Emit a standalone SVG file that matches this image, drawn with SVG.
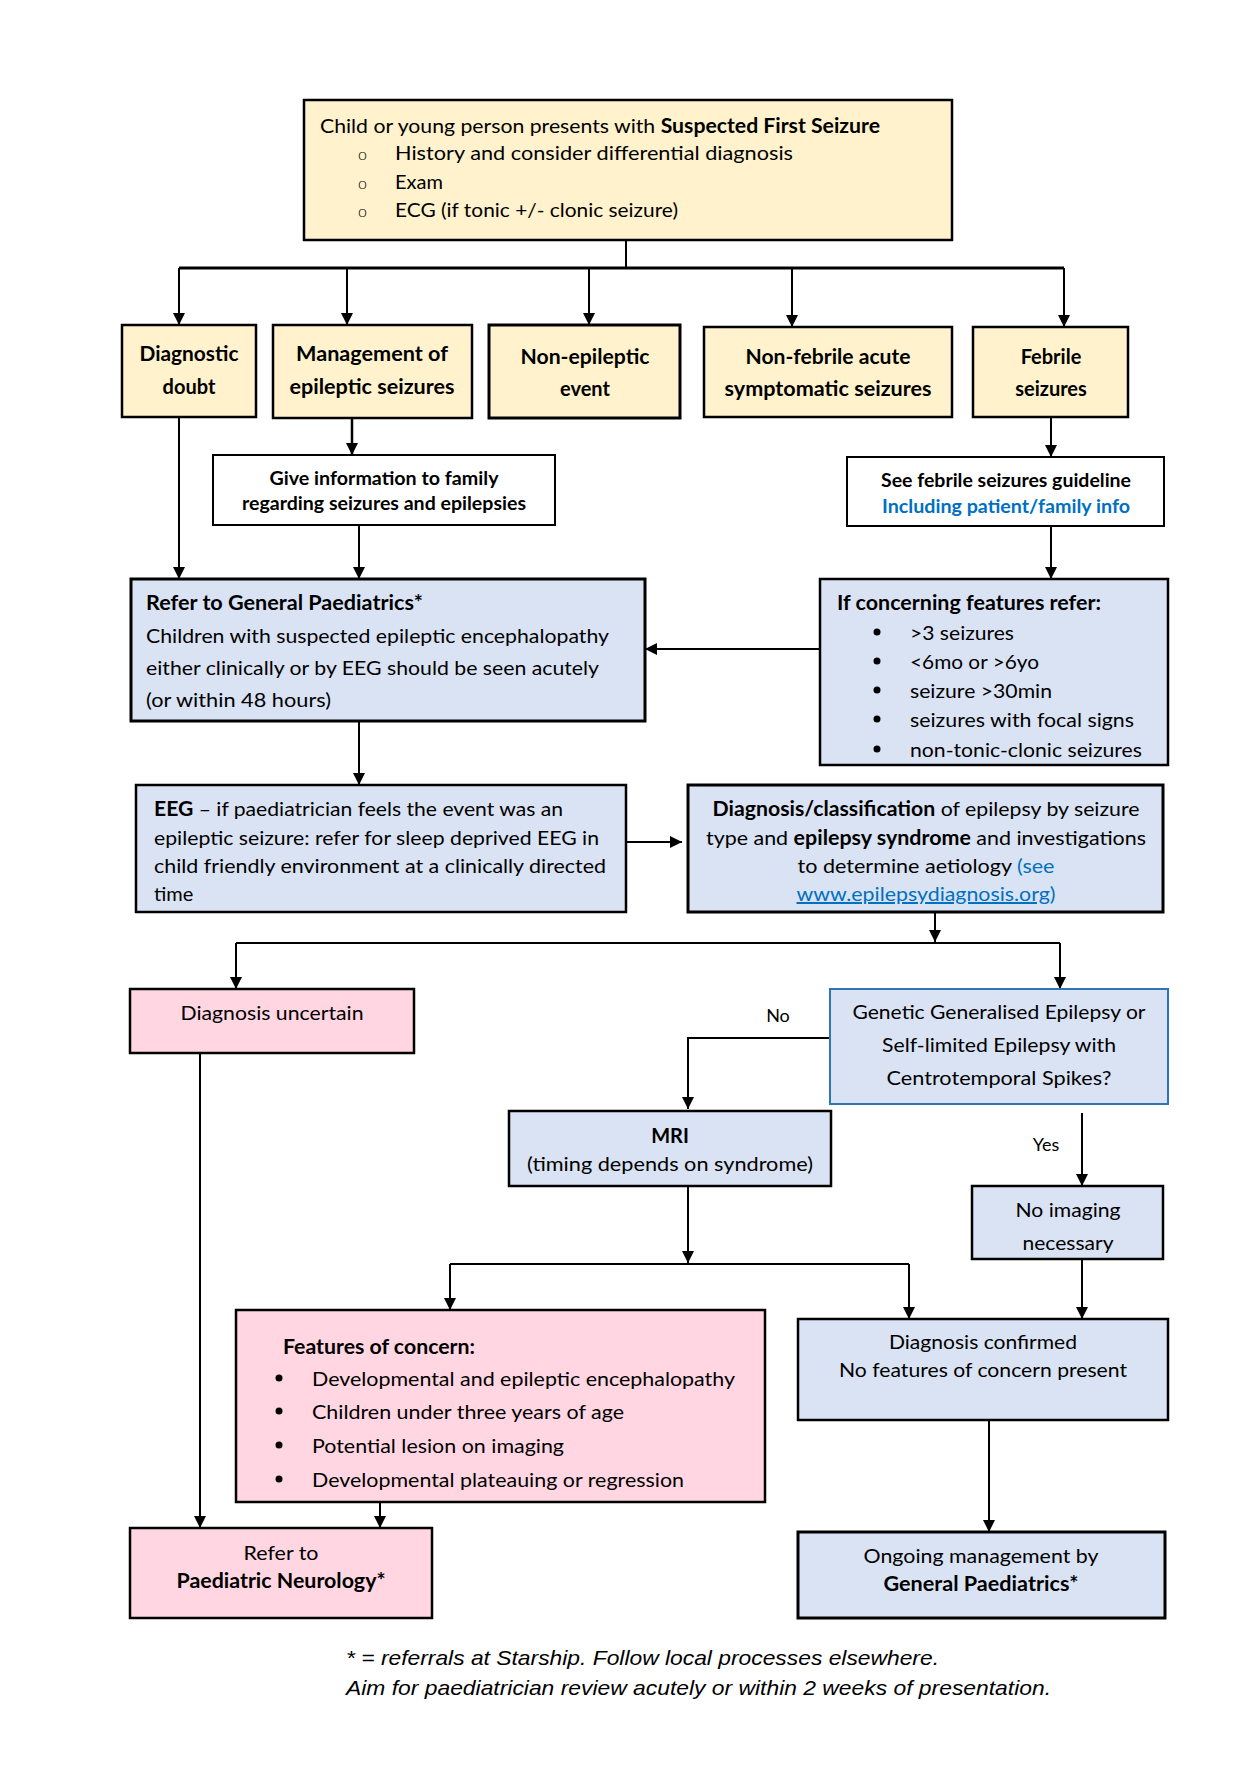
<svg xmlns="http://www.w3.org/2000/svg" width="1240" height="1766" viewBox="0 0 1240 1766">
<defs>
<marker id="ah" markerUnits="userSpaceOnUse" markerWidth="12" markerHeight="12" refX="12" refY="6" orient="auto">
<path d="M0,0 L12,6 L0,12 z" fill="#000"/>
</marker>
<style>
text{font-family:Lato,"Noto Sans","Liberation Sans",sans-serif;fill:#000;font-size:20px;transform:translateY(2px)}
.c{text-anchor:middle}
.b{font-weight:bold}
.s{font-size:18px}
.y{fill:#FFF2CC;stroke:#000;stroke-width:2.5}
.bl{fill:#DAE3F3;stroke:#000;stroke-width:2.5}
.pk{fill:#FFD6E2;stroke:#000;stroke-width:2.5}
.w{fill:#fff;stroke:#000;stroke-width:2}
.gb{fill:#DAE3F3;stroke:#2E75B6;stroke-width:2}
.lk{fill:#0070C0}
.ln{fill:none;stroke:#000;stroke-width:2}
.ar{fill:none;stroke:#000;stroke-width:2;marker-end:url(#ah)}
.ft{font-family:"Liberation Sans",Arial,sans-serif;font-style:italic;font-size:21px}
.ob{font-size:16px;font-weight:300}
</style>
</defs>
<rect width="1240" height="1766" fill="#fff"/>

<g id="connectors">
<path class="ln" d="M626,240 V268"/>
<path class="ln" style="stroke-width:3" d="M179,268 H1064"/>
<path class="ar" d="M179,268 V325"/>
<path class="ar" d="M347,268 V325"/>
<path class="ar" d="M589,268 V325"/>
<path class="ar" d="M792,268 V327"/>
<path class="ar" d="M1064,268 V327"/>
<path class="ar" style="stroke-width:2.5" d="M352,418 V455"/>
<path class="ar" d="M1051,417 V457"/>
<path class="ar" d="M179,417 V579"/>
<path class="ar" d="M359,525 V579"/>
<path class="ar" d="M1051,526 V579"/>
<path class="ar" d="M820,649 H645"/>
<path class="ar" d="M359,721 V785"/>
<path class="ar" d="M626,842 H682"/>
<path class="ar" d="M935,913 V942"/>
<path class="ln" d="M236,943 H1060"/>
<path class="ar" d="M236,943 V989"/>
<path class="ar" d="M1060,943 V989"/>
<path class="ar" d="M830,1038 H688 V1109"/>
<path class="ar" d="M1082,1113 V1186"/>
<path class="ar" d="M688,1186 V1263"/>
<path class="ln" d="M450,1264 H909"/>
<path class="ar" d="M450,1264 V1310"/>
<path class="ar" d="M909,1264 V1319"/>
<path class="ar" d="M1082,1259 V1319"/>
<path class="ar" d="M989,1420 V1532"/>
<path class="ar" d="M200,1053 V1528"/>
<path class="ar" d="M380,1502 V1528"/>
<text x="778" y="1020" class="c s">No</text>
<text x="1046" y="1149" class="c s">Yes</text>
</g>

<g id="start">
<rect class="y" x="304" y="100" width="648" height="140"/>
<text x="320" y="131" textLength="560" lengthAdjust="spacingAndGlyphs">Child or young person presents with <tspan class="b">Suspected First Seizure</tspan></text>
<text x="358" y="158" class="ob">o</text>
<text x="395" y="158" textLength="398" lengthAdjust="spacingAndGlyphs">History and  consider differential diagnosis</text>
<text x="358" y="187" class="ob">o</text>
<text x="395" y="187">Exam</text>
<text x="358" y="215" class="ob">o</text>
<text x="395" y="215" textLength="283" lengthAdjust="spacingAndGlyphs">ECG (if tonic +/- clonic seizure)</text>
</g>

<g id="diagnostic-doubt">
<rect class="y" x="122" y="325" width="134" height="92"/>
<text x="189" y="359" class="c b" textLength="99" lengthAdjust="spacingAndGlyphs">Diagnostic</text>
<text x="189" y="392" class="c b">doubt</text>
</g>

<g id="management">
<rect class="y" x="273" y="325" width="199" height="93"/>
<text x="372" y="359" class="c b" textLength="152" lengthAdjust="spacingAndGlyphs">Management of</text>
<text x="372" y="392" class="c b" textLength="165" lengthAdjust="spacingAndGlyphs">epileptic seizures</text>
</g>

<g id="non-epileptic">
<rect class="y" x="489" y="325" width="191" height="93" style="stroke-width:3"/>
<text x="585" y="362" class="c b" textLength="129" lengthAdjust="spacingAndGlyphs">Non-epileptic</text>
<text x="585" y="394" class="c b">event</text>
</g>

<g id="non-febrile">
<rect class="y" x="704" y="327" width="248" height="90"/>
<text x="828" y="362" class="c b" textLength="165" lengthAdjust="spacingAndGlyphs">Non-febrile acute</text>
<text x="828" y="394" class="c b" textLength="207" lengthAdjust="spacingAndGlyphs">symptomatic seizures</text>
</g>

<g id="febrile">
<rect class="y" x="973" y="327" width="155" height="90"/>
<text x="1051" y="362" class="c b">Febrile</text>
<text x="1051" y="394" class="c b">seizures</text>
</g>

<g id="give-info">
<rect class="w" x="213" y="455" width="342" height="70"/>
<text x="384" y="483" class="c b s" textLength="229" lengthAdjust="spacingAndGlyphs">Give information to family</text>
<text x="384" y="508" class="c b s" textLength="284" lengthAdjust="spacingAndGlyphs">regarding seizures and epilepsies</text>
</g>

<g id="febrile-guideline">
<rect class="w" x="847" y="457" width="317" height="69"/>
<text x="1006" y="485" class="c b s" textLength="250" lengthAdjust="spacingAndGlyphs">See febrile seizures guideline</text>
<text x="1006" y="511" class="c b s lk" textLength="248" lengthAdjust="spacingAndGlyphs">Including patient/family info</text>
</g>

<g id="refer-general">
<rect class="bl" x="131" y="579" width="514" height="142" style="stroke-width:3"/>
<text x="146" y="608" class="b" textLength="277" lengthAdjust="spacingAndGlyphs">Refer to General Paediatrics*</text>
<text x="146" y="641" textLength="463" lengthAdjust="spacingAndGlyphs">Children with suspected epileptic encephalopathy</text>
<text x="146" y="673" textLength="453" lengthAdjust="spacingAndGlyphs">either clinically or by EEG should be seen acutely</text>
<text x="146" y="705" textLength="185" lengthAdjust="spacingAndGlyphs">(or within 48 hours)</text>
</g>

<g id="concerning">
<rect class="bl" x="820" y="579" width="348" height="186"/>
<text x="837" y="608" class="b" textLength="264" lengthAdjust="spacingAndGlyphs">If concerning features refer:</text>
<circle cx="877" cy="632" r="3.5"/>
<text x="910" y="638" textLength="104" lengthAdjust="spacingAndGlyphs">&gt;3 seizures</text>
<circle cx="877" cy="661" r="3.5"/>
<text x="910" y="667" textLength="129" lengthAdjust="spacingAndGlyphs">&lt;6mo or &gt;6yo</text>
<circle cx="877" cy="690" r="3.5"/>
<text x="910" y="696" textLength="142" lengthAdjust="spacingAndGlyphs">seizure &gt;30min</text>
<circle cx="877" cy="719" r="3.5"/>
<text x="910" y="725" textLength="224" lengthAdjust="spacingAndGlyphs">seizures with focal signs</text>
<circle cx="877" cy="749" r="3.5"/>
<text x="910" y="755" textLength="232" lengthAdjust="spacingAndGlyphs">non-tonic-clonic seizures</text>
</g>

<g id="eeg">
<rect class="bl" x="136" y="785" width="490" height="127"/>
<text x="154" y="814" textLength="409" lengthAdjust="spacingAndGlyphs"><tspan class="b">EEG</tspan> – if paediatrician feels the event was an</text>
<text x="154" y="843" textLength="445" lengthAdjust="spacingAndGlyphs">epileptic seizure: refer for sleep deprived EEG in</text>
<text x="154" y="871" textLength="452" lengthAdjust="spacingAndGlyphs">child friendly environment at a clinically directed</text>
<text x="154" y="899">time</text>
</g>

<g id="classification">
<rect class="bl" x="688" y="785" width="475" height="127" style="stroke-width:3"/>
<text x="926" y="814" class="c" textLength="427" lengthAdjust="spacingAndGlyphs"><tspan class="b">Diagnosis/classification</tspan> of epilepsy by seizure</text>
<text x="926" y="843" class="c" textLength="440" lengthAdjust="spacingAndGlyphs">type and <tspan class="b">epilepsy syndrome</tspan> and investigations</text>
<text x="926" y="871" class="c" textLength="257" lengthAdjust="spacingAndGlyphs">to determine aetiology <tspan class="lk">(see</tspan></text>
<text x="926" y="899" class="c lk" textLength="259" lengthAdjust="spacingAndGlyphs"><tspan text-decoration="underline">www.epilepsydiagnosis.org</tspan>)</text>
</g>

<g id="diagnosis-uncertain">
<rect class="pk" x="130" y="989" width="284" height="64"/>
<text x="272" y="1018" class="c" textLength="183" lengthAdjust="spacingAndGlyphs">Diagnosis uncertain</text>
</g>

<g id="genetic">
<rect class="gb" x="830" y="989" width="338" height="115"/>
<text x="999" y="1017" class="c" textLength="293" lengthAdjust="spacingAndGlyphs">Genetic Generalised Epilepsy or</text>
<text x="999" y="1050" class="c" textLength="234" lengthAdjust="spacingAndGlyphs">Self-limited Epilepsy with</text>
<text x="999" y="1083" class="c" textLength="225" lengthAdjust="spacingAndGlyphs">Centrotemporal Spikes?</text>
</g>

<g id="mri">
<rect class="bl" x="509" y="1111" width="322" height="75"/>
<text x="670" y="1141" class="c b">MRI</text>
<text x="670" y="1169" class="c" textLength="286" lengthAdjust="spacingAndGlyphs">(timing depends on syndrome)</text>
</g>

<g id="no-imaging">
<rect class="bl" x="972" y="1186" width="191" height="73"/>
<text x="1068" y="1215" class="c" textLength="105" lengthAdjust="spacingAndGlyphs">No imaging</text>
<text x="1068" y="1248" class="c" textLength="91" lengthAdjust="spacingAndGlyphs">necessary</text>
</g>

<g id="features">
<rect class="pk" x="236" y="1310" width="529" height="192"/>
<text x="283" y="1352" class="b" textLength="192" lengthAdjust="spacingAndGlyphs">Features of concern:</text>
<circle cx="279" cy="1378" r="3.5"/>
<text x="312" y="1384" textLength="423" lengthAdjust="spacingAndGlyphs">Developmental and epileptic encephalopathy</text>
<circle cx="279" cy="1411" r="3.5"/>
<text x="312" y="1417" textLength="312" lengthAdjust="spacingAndGlyphs">Children under three years of age</text>
<circle cx="279" cy="1445" r="3.5"/>
<text x="312" y="1451" textLength="252" lengthAdjust="spacingAndGlyphs">Potential lesion on imaging</text>
<circle cx="279" cy="1479" r="3.5"/>
<text x="312" y="1485" textLength="372" lengthAdjust="spacingAndGlyphs">Developmental plateauing or regression</text>
</g>

<g id="diagnosis-confirmed">
<rect class="bl" x="798" y="1319" width="370" height="101"/>
<text x="983" y="1347" class="c" textLength="188" lengthAdjust="spacingAndGlyphs">Diagnosis confirmed</text>
<text x="983" y="1375" class="c" textLength="288" lengthAdjust="spacingAndGlyphs">No features of concern present</text>
</g>

<g id="refer-neurology">
<rect class="pk" x="130" y="1528" width="302" height="90"/>
<text x="281" y="1558" class="c" textLength="75" lengthAdjust="spacingAndGlyphs">Refer to</text>
<text x="281" y="1586" class="c b" textLength="209" lengthAdjust="spacingAndGlyphs">Paediatric Neurology*</text>
</g>

<g id="ongoing">
<rect class="bl" x="798" y="1532" width="367" height="86" style="stroke-width:3"/>
<text x="981" y="1561" class="c" textLength="235" lengthAdjust="spacingAndGlyphs">Ongoing management by</text>
<text x="981" y="1589" class="c b" textLength="195" lengthAdjust="spacingAndGlyphs">General Paediatrics*</text>
</g>

<g id="footer">
<text x="346" y="1663" class="ft" textLength="593" lengthAdjust="spacingAndGlyphs">* = referrals at Starship. Follow local processes elsewhere.</text>
<text x="346" y="1693" class="ft" textLength="705" lengthAdjust="spacingAndGlyphs">Aim for paediatrician review acutely or within 2 weeks of presentation.</text>
</g>
</svg>
